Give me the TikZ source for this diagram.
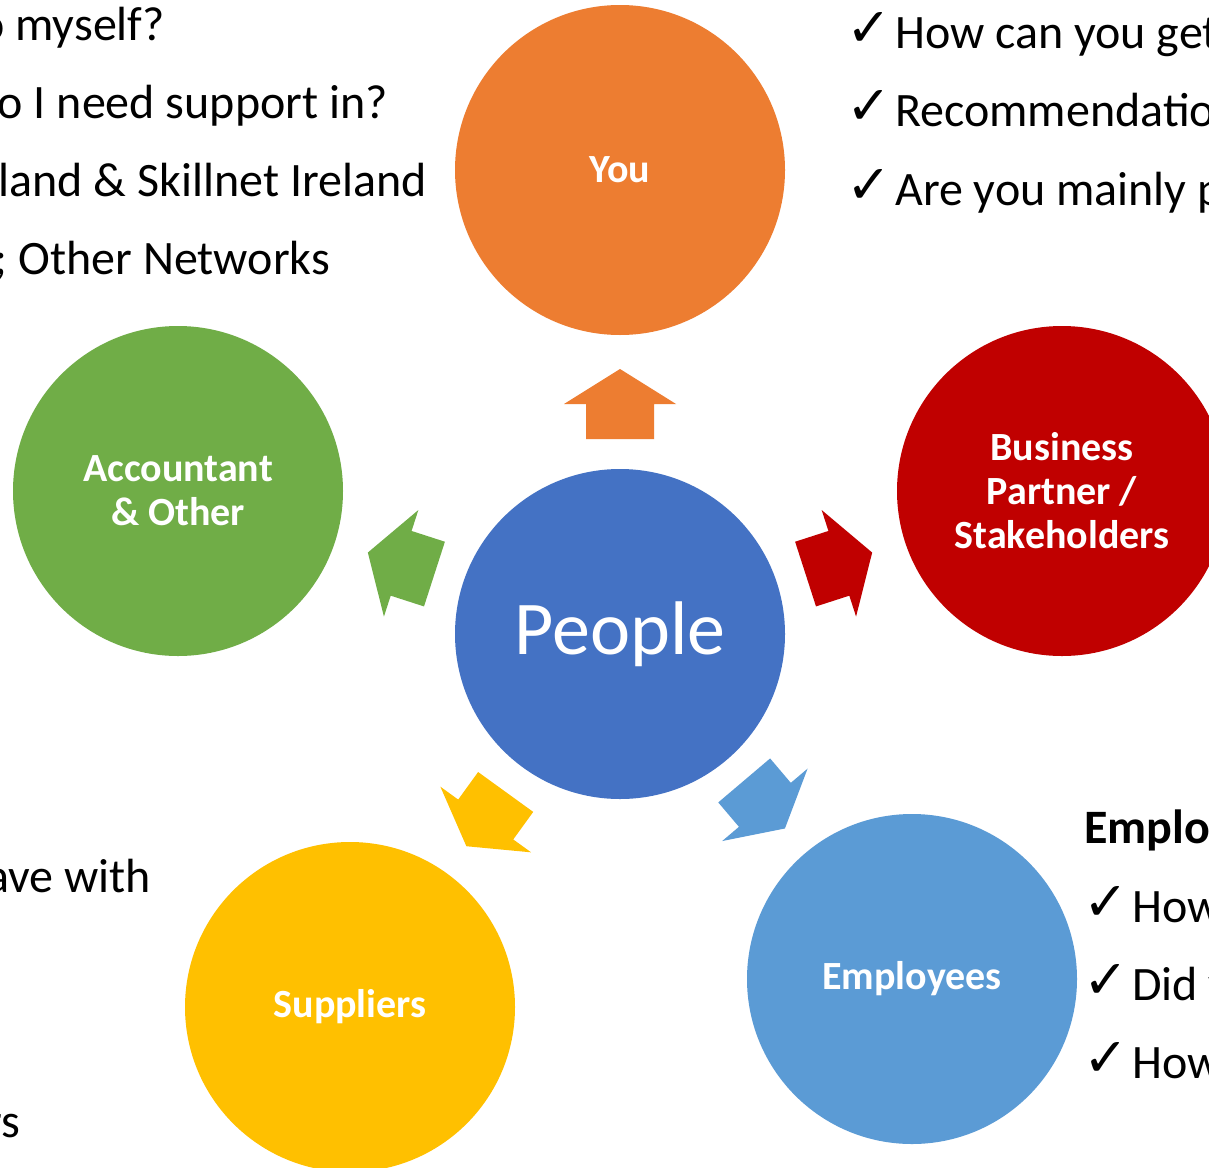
\documentclass[tikz,border=0pt]{standalone}
\usepackage{fontspec}
\setmainfont{Carlito}
\newfontfamily\checkfont{DejaVu Sans}
\definecolor{cOrange}{HTML}{ED7D31}
\definecolor{cRed}{HTML}{C00000}
\definecolor{cGreen}{HTML}{70AD47}
\definecolor{cBlue}{HTML}{4472C4}
\definecolor{cLight}{HTML}{5B9BD5}
\definecolor{cYellow}{HTML}{FFC000}
\newcommand{\radarrow}[5]{%
  \fill[#1, shift={(people.center)}, rotate=#2]
    (#3,-34) -- (#4,-34) -- (#4,-56) -- (#5,0) -- (#4,56) -- (#4,34) -- (#3,34) -- cycle;}
\tikzset{
  bubble/.style={circle, inner sep=0pt, minimum size=330pt, text=white, align=center,
    font=\fontsize{40}{44}\selectfont\bfseries},
  sidetext/.style={inner sep=0pt, text=black, font=\fontsize{48}{48}\selectfont},
  tick/.style={inner sep=0pt, text=black, font=\checkfont\fontsize{54}{54}\selectfont},
}
\begin{document}
\begin{tikzpicture}[x=1pt,y=-1pt]
\useasboundingbox (0,0) rectangle (1209,1167);
\clip (0,0) rectangle (1209,1167);
\fill[white] (0,0) rectangle (1209,1167);

% circles
\node[bubble, fill=cBlue, font=\fontsize{76}{76}\selectfont] (people) at (620,634) {People};
\node[bubble, fill=cOrange] (you) at (620,170) {You};
\node[bubble, fill=cRed] (partner) at (1062,491) {Business\\Partner /\\Stakeholders};
\node[bubble, fill=cGreen] (accountant) at (178,491) {Accountant\\\& Other};
\node[bubble, fill=cLight] (employees) at (912,979) {Employees};
\node[bubble, fill=cYellow] (suppliers) at (350,1007) {Suppliers};

% radiating arrows
\radarrow{cOrange}{90}{195}{230}{265}
\radarrow{cRed}{17.9}{195}{230}{265}
\radarrow{cGreen}{162.1}{195}{230}{265}
\radarrow{cLight}{-49.7}{192}{224}{255}
\radarrow{cYellow}{-125.9}{195}{229}{262}

% left texts (cut by the page edge)
\node[sidetext, anchor=base east] (l1) at (165,40) {o myself?};
\node[sidetext, anchor=base east] (l2) at (388,118) {o I need support in?};
\node[sidetext, anchor=base east] (l3) at (427,196) {land \& Skillnet Ireland};
\node[sidetext, anchor=base east] (l4) at (330,274) {; Other Networks};
\node[sidetext, anchor=base east] (l5) at (151,892) {ave with};
\node[sidetext, anchor=base east] (l6) at (20,1137) {rs};

% right top texts
\node[tick, anchor=base west] (t1) at (846,46) {✓};
\node[sidetext, anchor=base west] (r1) at (895,48) {How can you get};
\node[tick, anchor=base west] (t2) at (846,124) {✓};
\node[sidetext, anchor=base west] (r2) at (895,126) {Recommendation};
\node[tick, anchor=base west] (t3) at (846,203) {✓};
\node[sidetext, anchor=base west] (r3) at (895,205) {Are you mainly p};

% right bottom texts
\node[sidetext, anchor=base west, font=\fontsize{48}{48}\selectfont\bfseries] (e0) at (1084,843) {Emplo};
\node[tick, anchor=base west] (t4) at (1083,920) {✓};
\node[sidetext, anchor=base west] (e1) at (1132,922) {How};
\node[tick, anchor=base west] (t5) at (1083,998) {✓};
\node[sidetext, anchor=base west] (e2) at (1132,1000) {Did y};
\node[tick, anchor=base west] (t6) at (1083,1076) {✓};
\node[sidetext, anchor=base west] (e3) at (1132,1078) {How};
\end{tikzpicture}
\end{document}
